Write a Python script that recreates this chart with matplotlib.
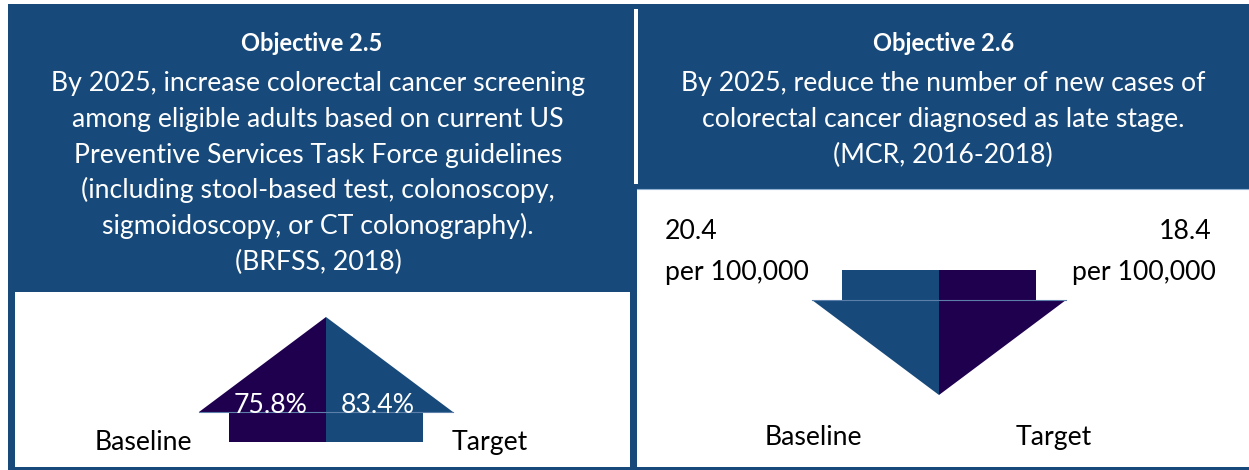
import matplotlib.pyplot as plt
from matplotlib.patches import Rectangle, Polygon

plt.rcParams['font.family'] = ['Lato', 'DejaVu Sans']

W, H = 1249, 470

blue = "#174a7b"
purple = "#1f004f"
edge = "#5b7fa8"

titles = ["Objective 2.5", "Objective 2.6"]
goals = [
    ["By 2025, increase colorectal cancer screening",
     "among eligible adults based on current US",
     "Preventive Services Task Force guidelines",
     "(including stool-based test, colonoscopy,",
     "sigmoidoscopy, or CT colonography)."],
    ["By 2025, reduce the number of new cases of",
     "colorectal cancer diagnosed as late stage."],
]
sources = ["(BRFSS, 2018)", "(MCR, 2016-2018)"]
baseline_vals = ["75.8%", "20.4"]
target_vals = ["83.4%", "18.4"]
units = ["", "per 100,000"]
directions = ["up", "down"]
labels = ["Baseline", "Target"]

fig = plt.figure(figsize=(W / 100, H / 100), dpi=100)
ax = fig.add_axes([0, 0, 1, 1])
ax.set_xlim(0, W)
ax.set_ylim(H, 0)
ax.axis("off")

# panel layout in pixels
ax.add_patch(Rectangle((8, 4), W - 8, H - 4, color=blue, lw=0))
ax.add_patch(Rectangle((15, 292), 615, 175, color="white", lw=0))
ax.add_patch(Rectangle((637, 189), W - 637, 278, color="white", lw=0))
ax.add_patch(Rectangle((634, 9), 4, 175, color="white", lw=0))
ax.plot([637, W], [189, 189], color="#8fb0d0", lw=0.8)

centers = [318, 943]
title_x = [312, 944]
arrow_x = [326, 939]
arrow_base = [412, 300]
hw, sw, hh, sh = 127, 97, 95, 30
fs = 19.2
fs_title = 17


def half_arrow(cx, by, side, s):
    # side -1 left, +1 right; s -1 up, +1 down
    return [(cx, by + s * hh), (cx + side * hw, by), (cx + side * sw, by),
            (cx + side * sw, by - s * sh), (cx, by - s * sh)]


for i in range(2):
    cx = centers[i]
    ax.text(title_x[i], 51, titles[i], ha="center", va="baseline", color="white",
            fontsize=fs_title, fontweight="bold")
    y = 91
    for line in goals[i] + [sources[i]]:
        ax.text(cx, y, line, ha="center", va="baseline", color="white", fontsize=fs)
        y += 35.8

    s = -1 if directions[i] == "up" else 1
    left_c, right_c = (purple, blue) if s == -1 else (blue, purple)
    ax.add_patch(Polygon(half_arrow(arrow_x[i], arrow_base[i], -1, s), closed=True,
                         facecolor=left_c, edgecolor="none"))
    ax.add_patch(Polygon(half_arrow(arrow_x[i], arrow_base[i], 1, s), closed=True,
                         facecolor=right_c, edgecolor="none"))
    ax.plot([arrow_x[i] - hw, arrow_x[i] + hw], [arrow_base[i]] * 2, color=edge, lw=0.8)

# left panel labels
ax.text(271, 413, baseline_vals[0], ha="center", va="baseline", color="white", fontsize=fs)
ax.text(378, 413, target_vals[0], ha="center", va="baseline", color="white", fontsize=fs)
ax.text(143, 450, labels[0], ha="center", va="baseline", color="black", fontsize=fs)
ax.text(490, 450, labels[1], ha="center", va="baseline", color="black", fontsize=fs)

# right panel labels
ax.text(665, 239, baseline_vals[1], ha="left", va="baseline", color="black", fontsize=fs)
ax.text(665, 280, units[1], ha="left", va="baseline", color="black", fontsize=fs)
ax.text(1212, 239, target_vals[1], ha="right", va="baseline", color="black", fontsize=fs)
ax.text(1216, 280, units[1], ha="right", va="baseline", color="black", fontsize=fs)
ax.text(813, 445, labels[0], ha="center", va="baseline", color="black", fontsize=fs)
ax.text(1054, 445, labels[1], ha="center", va="baseline", color="black", fontsize=fs)

fig.savefig("out.png", dpi=100)
